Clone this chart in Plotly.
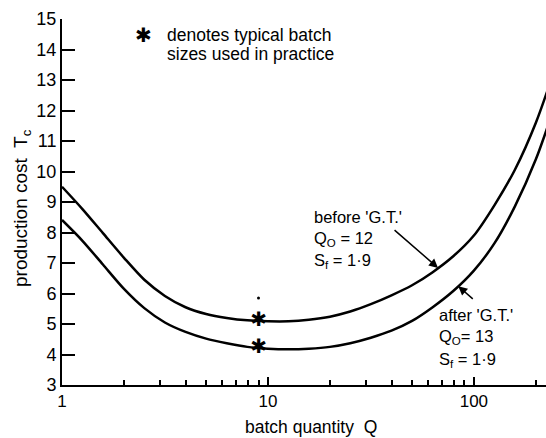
import math
import plotly.graph_objects as go

# Production cost T_c against batch quantity Q (log scale), sampled every 0.1 decade
q = [1, 1.26, 1.58, 2, 2.51, 3.16, 3.98, 5.01, 6.31, 7.94, 10, 12.6, 15.8, 20, 25.1,
     31.6, 39.8, 50.1, 63.1, 79.4, 100, 126, 158, 200, 251]
t_before = [9.50, 8.76, 7.98, 7.17, 6.45, 5.92, 5.55, 5.33, 5.20, 5.12, 5.09, 5.09, 5.14,
            5.24, 5.41, 5.65, 5.94, 6.27, 6.70, 7.22, 7.90, 8.90, 10.05, 11.60, 13.50]
t_after = [8.41, 7.72, 6.95, 6.15, 5.52, 5.05, 4.74, 4.52, 4.37, 4.25, 4.19, 4.17, 4.19,
           4.25, 4.37, 4.55, 4.78, 5.10, 5.55, 6.08, 6.75, 7.65, 8.85, 10.40, 12.30]

# typical batch sizes used in practice
q_typical = [9, 9]
t_typical = [5.1, 4.2]

x_ticks = [1, 10, 100]
x_tick_text = ["1", "10", "100"]
y_ticks = list(range(3, 16))

FONT = "Liberation Sans"
W, H = 546, 438
L, R, T, B = 62, 0, 19, 53
PW, PH = W - L - R, H - T - B


def px(xp):
    return (xp - L) / PW


def py(yp):
    return (H - B - yp) / PH


fig = go.Figure()
for ys in (t_before, t_after):
    fig.add_trace(go.Scatter(x=q, y=ys, mode="lines",
                             line=dict(color="black", width=2.5, shape="spline", smoothing=0.8),
                             showlegend=False, hoverinfo="skip"))
fig.add_trace(go.Scatter(x=q_typical, y=t_typical, mode="text", text=["✱", "✱"],
                         textfont=dict(family="DejaVu Sans", size=20, color="black"),
                         textposition="middle center", showlegend=False, hoverinfo="skip"))
fig.add_trace(go.Scatter(x=[9], y=[5.85], mode="markers", marker=dict(color="black", size=3),
                         showlegend=False, hoverinfo="skip"))

ann = []


def text(xp, yp, s, size=16, anchor="left"):
    ann.append(dict(x=px(xp), y=py(yp), xref="paper", yref="paper", text=s, showarrow=False,
                    xanchor=anchor, yanchor="middle", font=dict(family=FONT, size=size, color="black")))


# note explaining the asterisk
ann.append(dict(x=px(143), y=py(35), xref="paper", yref="paper", text="✱", showarrow=False,
                xanchor="center", yanchor="middle", font=dict(family="DejaVu Sans", size=20, color="black")))
text(165, 35, "denotes typical batch", size=17.5)
text(165, 54, "sizes used in practice", size=17.5)

# curve labels
text(312, 217, "before 'G.T.'", size=16.5)
text(312, 239, "Q<sub>O</sub> = 12", size=16.5)
text(312, 261, "S<sub>f</sub> = 1·9", size=16.5)
text(437, 315, "after 'G.T.'", size=16.5)
text(437, 337, "Q<sub>O</sub>= 13", size=16.5)
text(437, 360, "S<sub>f</sub> = 1·9", size=16.5)

# pointer arrows onto the curves
ann.append(dict(x=math.log10(67), y=6.84, xref="x", yref="y", ax=-45, ay=-39,
                text="", showarrow=True, arrowhead=2, arrowsize=1.2, arrowwidth=1.5, arrowcolor="black"))
ann.append(dict(x=math.log10(84), y=6.24, xref="x", yref="y", ax=16, ay=14,
                text="", showarrow=True, arrowhead=2, arrowsize=1.2, arrowwidth=1.5, arrowcolor="black"))

# axis titles
ann.append(dict(x=px(22), y=py(208), xref="paper", yref="paper", text="production cost  T<sub>c</sub>",
                showarrow=False, textangle=-90, xanchor="center", yanchor="middle",
                font=dict(family=FONT, size=19, color="black")))
text(311, 427, "batch quantity  Q", size=17.5, anchor="center")

fig.update_layout(
    width=W, height=H, margin=dict(l=L, r=R, t=T, b=B, pad=0),
    paper_bgcolor="white", plot_bgcolor="white",
    annotations=ann,
    xaxis=dict(type="log", range=[0, math.log10(224)], showline=True, linecolor="black", linewidth=2,
               showgrid=False, zeroline=False, ticks="inside", ticklen=8, tickwidth=1.5, tickcolor="black",
               tickvals=x_ticks, ticktext=x_tick_text,
               tickfont=dict(family=FONT, size=17, color="black"),
               minor=dict(ticks="inside", ticklen=5, tickwidth=1.5, tickcolor="black", dtick="D1", showgrid=False)),
    yaxis=dict(range=[3, 15], showline=True, linecolor="black", linewidth=2, showgrid=False, zeroline=False,
               ticks="inside", ticklen=13, tickwidth=1.5, tickcolor="black", tickvals=y_ticks,
               tickfont=dict(family=FONT, size=18, color="black")),
)

fig.write_html("out.html")
